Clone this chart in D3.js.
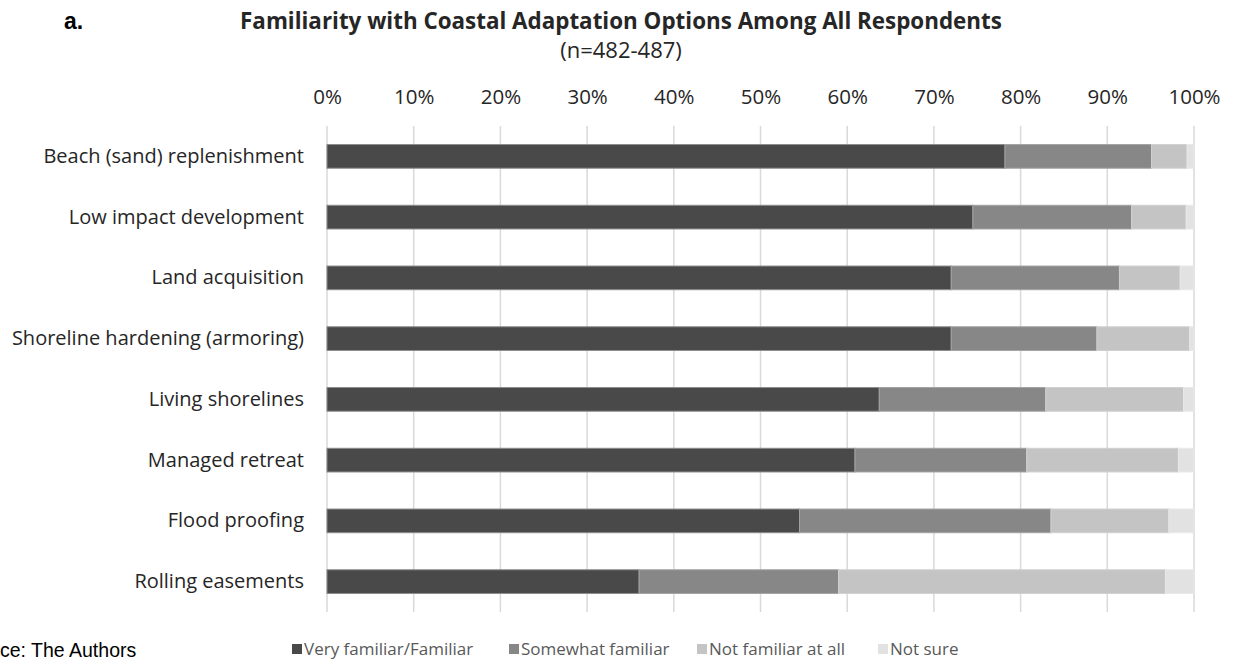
<!DOCTYPE html>
<html>
<head>
<meta charset="utf-8">
<script src="https://cdn.jsdelivr.net/npm/d3@7"></script>
<style>
  body { margin: 0; background: #fff; }
  svg { display: block; }
</style>
</head>
<body>
<svg id="chart"></svg>
<script>
const categories = [
    "Beach (sand) replenishment",
    "Low impact development",
    "Land acquisition",
    "Shoreline hardening (armoring)",
    "Living shorelines",
    "Managed retreat",
    "Flood proofing",
    "Rolling easements"
];

const seriesNames = ["Very familiar/Familiar", "Somewhat familiar", "Not familiar at all", "Not sure"];

// percent of respondents
const veryFamiliar = [78.2, 74.5, 72.0, 72.0, 63.7, 60.9, 54.5, 36.0];
const somewhatFamiliar = [16.9, 18.3, 19.4, 16.8, 19.2, 19.8, 29.0, 23.0];
const notFamiliar = [4.1, 6.3, 7.0, 10.7, 15.9, 17.5, 13.6, 37.7];
const notSure = [0.8, 0.9, 1.6, 0.5, 1.2, 1.8, 2.9, 3.3];

const tickValues = [0, 10, 20, 30, 40, 50, 60, 70, 80, 90, 100];

const fills = ["#494949", "#878787", "#c4c4c4", "#e2e2e2"];
const strokes = ["#8c8c8c", "#a3a3a3", "#d0d0d0", "#e8e8e8"];

const width = 1233;
const height = 660;
const font = "'Open Sans', Lato, sans-serif";

const rows = categories.map((c, i) => ({
    category: c,
    [seriesNames[0]]: veryFamiliar[i],
    [seriesNames[1]]: somewhatFamiliar[i],
    [seriesNames[2]]: notFamiliar[i],
    [seriesNames[3]]: notSure[i]
}));

const stacked = d3.stack().keys(seriesNames)(rows);

const x = d3.scaleLinear().domain([0, 100]).range([327, 1194]);
const y = d3.scaleBand().domain(categories).range([126, 612])
    .paddingInner(0.61).paddingOuter(0.305);

const svg = d3.select("#chart")
    .attr("width", width)
    .attr("height", height)
    .attr("viewBox", [0, 0, width, height]);

// gridlines
svg.append("g")
    .selectAll("line")
    .data(tickValues)
    .join("line")
    .attr("x1", d => x(d)).attr("x2", d => x(d))
    .attr("y1", 126).attr("y2", 612)
    .attr("stroke", "#d9d9d9")
    .attr("stroke-width", 1.5);

// top axis labels
const xAxis = svg.append("g")
    .attr("transform", "translate(0,104)")
    .call(d3.axisTop(x).tickValues(tickValues).tickSize(0).tickPadding(0).tickFormat(d => d + "%"));
xAxis.select(".domain").remove();
xAxis.selectAll("text")
    .attr("font-family", font)
    .attr("font-size", 20.5)
    .attr("fill", "#262626");

// bars
svg.append("g")
    .selectAll("g")
    .data(stacked)
    .join("g")
    .attr("fill", (d, i) => fills[i])
    .attr("stroke", (d, i) => strokes[i])
    .selectAll("rect")
    .data(d => d)
    .join("rect")
    .attr("x", d => x(d[0]))
    .attr("width", d => x(d[1]) - x(d[0]))
    .attr("y", d => y(d.data.category))
    .attr("height", y.bandwidth())
    .attr("stroke-width", 1);

// category labels
const yAxis = svg.append("g")
    .attr("transform", "translate(304,0)")
    .call(d3.axisLeft(y).tickSize(0).tickPadding(0));
yAxis.select(".domain").remove();
yAxis.selectAll("text")
    .attr("font-family", font)
    .attr("font-size", 20)
    .attr("fill", "#262626");

// titles
svg.append("text")
    .attr("x", 621).attr("y", 29)
    .attr("text-anchor", "middle")
    .attr("font-family", font)
    .attr("font-weight", "bold")
    .attr("font-size", 22.4)
    .attr("fill", "#262626")
    .text("Familiarity with Coastal Adaptation Options Among All Respondents");

svg.append("text")
    .attr("x", 621).attr("y", 58)
    .attr("text-anchor", "middle")
    .attr("font-family", font)
    .attr("font-size", 22)
    .attr("fill", "#262626")
    .text("(n=482-487)");

svg.append("text")
    .attr("x", 64).attr("y", 29)
    .attr("font-family", "'Liberation Sans', Arial, sans-serif")
    .attr("font-weight", "bold")
    .attr("font-size", 23)
    .attr("fill", "#000")
    .text("a.");

svg.append("text")
    .attr("x", 0).attr("y", 657)
    .attr("font-family", "'Liberation Sans', Arial, sans-serif")
    .attr("font-size", 19.5)
    .attr("fill", "#000")
    .text("ce: The Authors");

// legend
const legendX = [292, 509, 697, 878];
const legend = svg.append("g")
    .selectAll("g")
    .data(seriesNames)
    .join("g")
    .attr("transform", (d, i) => `translate(${legendX[i]},649)`);
legend.append("rect")
    .attr("x", 0).attr("y", -5)
    .attr("width", 10).attr("height", 10)
    .attr("fill", (d, i) => fills[i]);
legend.append("text")
    .attr("x", 12).attr("y", 0)
    .attr("dy", "0.35em")
    .attr("font-family", font)
    .attr("font-size", 17)
    .attr("fill", "#595959")
    .text(d => d);
</script>
</body>
</html>
